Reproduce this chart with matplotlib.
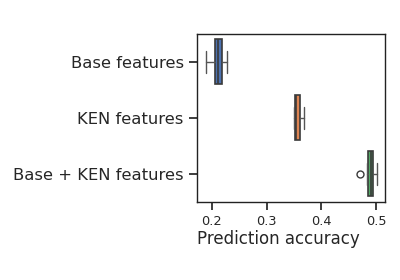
import matplotlib
matplotlib.use("Agg")
import matplotlib.pyplot as plt
import seaborn as sns

sns.set_theme(style="ticks")
plt.rcParams['font.family'] = ['DejaVu Sans']

categories = ["Base features", "KEN features", "Base + KEN features"]
whislo = [0.190, 0.350, 0.484]
q1 = [0.206, 0.352, 0.485]
med = [0.211, 0.354, 0.490]
q3 = [0.219, 0.361, 0.495]
whishi = [0.228, 0.368, 0.502]
fliers = [[], [], [0.470]]
colors = ["#4C72B0", "#DD8452", "#55A868"]

stats = []
for i, c in enumerate(categories):
    stats.append(dict(label=c, whislo=whislo[i], q1=q1[i], med=med[i],
                      q3=q3[i], whishi=whishi[i], fliers=fliers[i]))

fig = plt.figure(figsize=(4, 2.8), dpi=100)
ax = fig.add_axes([0.4925, 0.279, 0.47, 0.6])
lc = "#3a3a3a"
positions = list(range(len(categories)))
bp = ax.bxp(stats, positions=positions, vert=False, widths=0.8,
            patch_artist=True, showcaps=False,
            boxprops=dict(edgecolor=lc, linewidth=1.2),
            whiskerprops=dict(color="#555555", linewidth=1.0),
            capprops=dict(color=lc),
            medianprops=dict(color=lc, linewidth=1.2),
            flierprops=dict(marker='o', markerfacecolor='none',
                            markeredgecolor=lc, markersize=5))
for patch, col in zip(bp['boxes'], colors):
    patch.set_facecolor(col)
for i in positions:
    ax.plot([whislo[i], whislo[i]], [i - 0.2, i + 0.2], color="#555555", lw=1.0)
    ax.plot([whishi[i], whishi[i]], [i - 0.2, i + 0.2], color="#555555", lw=1.0)

ax.set_ylim(2.5, -0.5)
ax.set_yticks(positions)
ax.set_yticklabels(categories, fontsize=11.8)
ax.set_xlim(0.173, 0.516)
ax.set_xticks([0.2, 0.3, 0.4, 0.5])
ax.set_xticklabels(["0.2", "0.3", "0.4", "0.5"], fontsize=9.3)
ax.set_xlabel("Prediction accuracy", fontsize=12)
ax.xaxis.set_label_coords(0.0, -0.165)
ax.xaxis.label.set_horizontalalignment('left')
ax.xaxis.label.set_verticalalignment('top')
for s in ax.spines.values():
    s.set_color("#222222")
    s.set_linewidth(1.0)

fig.savefig("out.png", dpi=100)
